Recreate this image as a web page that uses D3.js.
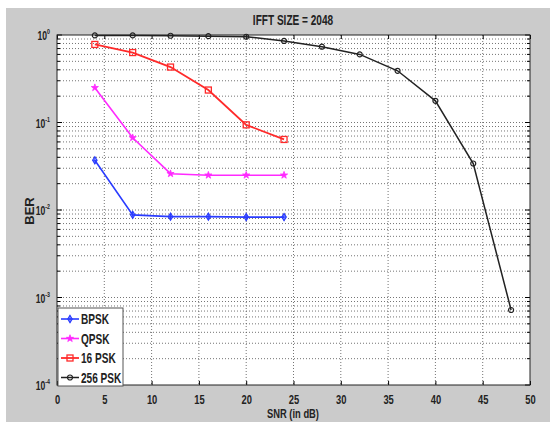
<!DOCTYPE html>
<html>
<head>
<meta charset="utf-8">
<script src="https://cdn.jsdelivr.net/npm/d3@7"></script>
<style>
  body { margin: 0; background: #fff; }
  svg { display: block; font-family: "Liberation Sans", Arial, sans-serif; font-weight: bold; }
</style>
</head>
<body>
<div id="chart-container"></div>
<script>
// data
const snrShort = [4, 8, 12, 16, 20, 24];
const snrLong = [4, 8, 12, 16, 20, 24, 28, 32, 36, 40, 44, 48];
const berBpsk = [0.037, 0.0088, 0.0084, 0.0084, 0.0083, 0.0083];
const berQpsk = [0.25, 0.067, 0.026, 0.025, 0.025, 0.025];
const ber16psk = [0.78, 0.63, 0.43, 0.235, 0.094, 0.064];
const ber256psk = [0.99, 0.99, 0.98, 0.97, 0.955, 0.855, 0.735, 0.60, 0.39, 0.177, 0.034, 0.00072];
const seriesNames = ['BPSK', 'QPSK', '16 PSK', '256 PSK'];
const xTicks = [0, 5, 10, 15, 20, 25, 30, 35, 40, 45, 50];
const yExponents = [0, -1, -2, -3, -4];

const W = 550, H = 423;
const plot = {left: 57, right: 530, top: 35, bottom: 385};
const squeeze = 'scale(0.72,1)';

const svg = d3.select('#chart-container').append('svg')
    .attr('width', W).attr('height', H);

svg.append('rect').attr('x', 6).attr('y', 8)
    .attr('width', W - 6).attr('height', H - 9).attr('fill', '#cbcbcb');
svg.append('rect').attr('x', plot.left).attr('y', plot.top)
    .attr('width', plot.right - plot.left).attr('height', plot.bottom - plot.top)
    .attr('fill', '#fff');

const x = d3.scaleLinear().domain([0, 50]).range([plot.left, plot.right]);
const y = d3.scaleLog().domain([1e-4, 1]).range([plot.bottom, plot.top]);

// grid
const grid = svg.append('g').attr('stroke', '#333').attr('stroke-width', 0.8)
    .attr('stroke-dasharray', '1,2').attr('opacity', 0.85);
const yGrid = [];
yExponents.slice(1).forEach((e) => {
  for (let k = 1; k <= 9; k++) yGrid.push(k * Math.pow(10, e));
});
grid.selectAll('.gy').data(yGrid.filter((v) => v > 1e-4)).enter().append('line')
    .attr('x1', plot.left).attr('x2', plot.right)
    .attr('y1', (d) => y(d)).attr('y2', (d) => y(d));
grid.selectAll('.gx').data(xTicks.slice(1, -1)).enter().append('line')
    .attr('y1', plot.top).attr('y2', plot.bottom)
    .attr('x1', (d) => x(d)).attr('x2', (d) => x(d));

// axes
const xAxis = svg.append('g').attr('transform', `translate(0,${plot.bottom})`)
    .call(d3.axisBottom(x).tickValues(xTicks).tickSize(-4).tickPadding(10).tickFormat(d3.format('d')));
xAxis.select('.domain').remove();
xAxis.selectAll('text').attr('font-size', 13).attr('font-family', null)
    .attr('fill', '#222').attr('transform', squeeze);
const xTop = svg.append('g').attr('transform', `translate(0,${plot.top})`)
    .call(d3.axisTop(x).tickValues(xTicks).tickSize(-4).tickFormat(''));
xTop.select('.domain').remove();

const yMinor = yGrid.filter((v) => v > 1e-4 && Math.abs(Math.log10(v) % 1) > 1e-6);
[['left', plot.left, 1], ['right', plot.right, -1]].forEach(([side, px, dir]) => {
  const g = svg.append('g');
  g.selectAll('.maj').data(yExponents).enter().append('line')
      .attr('x1', px).attr('x2', px + dir * 5)
      .attr('y1', (d) => y(Math.pow(10, d))).attr('y2', (d) => y(Math.pow(10, d)))
      .attr('stroke', '#000');
  g.selectAll('.min').data(yMinor).enter().append('line')
      .attr('x1', px).attr('x2', px + dir * 3)
      .attr('y1', (d) => y(d)).attr('y2', (d) => y(d))
      .attr('stroke', '#000');
});

const yLabels = svg.append('g').selectAll('g').data(yExponents).enter().append('g')
    .attr('transform', (d) => `translate(50,${y(Math.pow(10, d)) + 5}) scale(0.66,1)`);
const yText = yLabels.append('text').attr('text-anchor', 'end').attr('fill', '#222');
yText.append('tspan').attr('font-size', 13).text('10');
yText.append('tspan').attr('font-size', 8).attr('dy', -6).text((d) => d);

svg.append('rect').attr('x', plot.left).attr('y', plot.top)
    .attr('width', plot.right - plot.left).attr('height', plot.bottom - plot.top)
    .attr('fill', 'none').attr('stroke', '#222').attr('stroke-width', 1);

// series
const line = d3.line().x((d) => x(d[0])).y((d) => y(d[1]));
const series = [
  {name: seriesNames[0], xs: snrShort, ys: berBpsk, color: '#2a3cff', marker: 'diamond', width: 1.6},
  {name: seriesNames[1], xs: snrShort, ys: berQpsk, color: '#ff2aff', marker: 'star', width: 1.6},
  {name: seriesNames[2], xs: snrShort, ys: ber16psk, color: '#ff2a2a', marker: 'square', width: 1.8},
  {name: seriesNames[3], xs: snrLong, ys: ber256psk, color: '#222', marker: 'circle', width: 1.5},
];

function drawMarker(g, type, color) {
  if (type === 'square') {
    g.append('rect').attr('x', -3).attr('y', -3).attr('width', 6).attr('height', 6)
        .attr('fill', 'none').attr('stroke', color).attr('stroke-width', 1.3);
  } else if (type === 'circle') {
    g.append('circle').attr('r', 2.5).attr('fill', 'none')
        .attr('stroke', color).attr('stroke-width', 1.2);
  } else if (type === 'star') {
    g.append('path').attr('d', d3.symbol(d3.symbolStar, 16)())
        .attr('fill', color).attr('stroke', color).attr('stroke-width', 0.8);
  } else {
    g.append('path').attr('d', 'M0,-3.5L2.2,0L0,3.5L-2.2,0Z')
        .attr('fill', 'none').attr('stroke', color).attr('stroke-width', 1.2);
    g.append('path').attr('d', 'M0,-3.5V3.5M-2.2,0H2.2')
        .attr('stroke', color).attr('stroke-width', 1);
  }
}

series.forEach((s) => {
  const pts = s.xs.map((v, i) => [v, s.ys[i]]);
  svg.append('path').datum(pts).attr('d', line)
      .attr('fill', 'none').attr('stroke', s.color).attr('stroke-width', s.width);
  svg.append('g').selectAll('g').data(pts).enter().append('g')
      .attr('transform', (d) => `translate(${x(d[0])},${y(d[1])})`)
      .each(function() {
        drawMarker(d3.select(this), s.marker, s.color);
      });
});

// legend
const legend = svg.append('g');
legend.append('rect').attr('x', 58).attr('y', 308).attr('width', 65).attr('height', 78)
    .attr('fill', '#fff').attr('stroke', '#555').attr('stroke-width', 1);
series.forEach((s, i) => {
  const ly = 319 + i * 19.5;
  legend.append('line').attr('x1', 61).attr('x2', 79).attr('y1', ly).attr('y2', ly)
      .attr('stroke', s.color).attr('stroke-width', s.width);
  drawMarker(legend.append('g').attr('transform', `translate(70,${ly})`), s.marker, s.color);
  legend.append('g').attr('transform', `translate(81,${ly + 5}) ${squeeze}`)
      .append('text').attr('font-size', 14).attr('fill', '#222').text(s.name);
});

// titles
svg.append('g').attr('transform', `translate(293,25) ${squeeze}`)
    .append('text').attr('text-anchor', 'middle').attr('font-size', 14)
    .attr('fill', '#222').text('IFFT SIZE = 2048');
svg.append('g').attr('transform', `translate(293,418) ${squeeze}`)
    .append('text').attr('text-anchor', 'middle').attr('font-size', 13)
    .attr('fill', '#222').text('SNR (in dB)');
svg.append('g').attr('transform', 'translate(34,211) rotate(-90)')
    .append('text').attr('text-anchor', 'middle').attr('font-size', 13)
    .attr('fill', '#222').text('BER');
</script>
</body>
</html>
